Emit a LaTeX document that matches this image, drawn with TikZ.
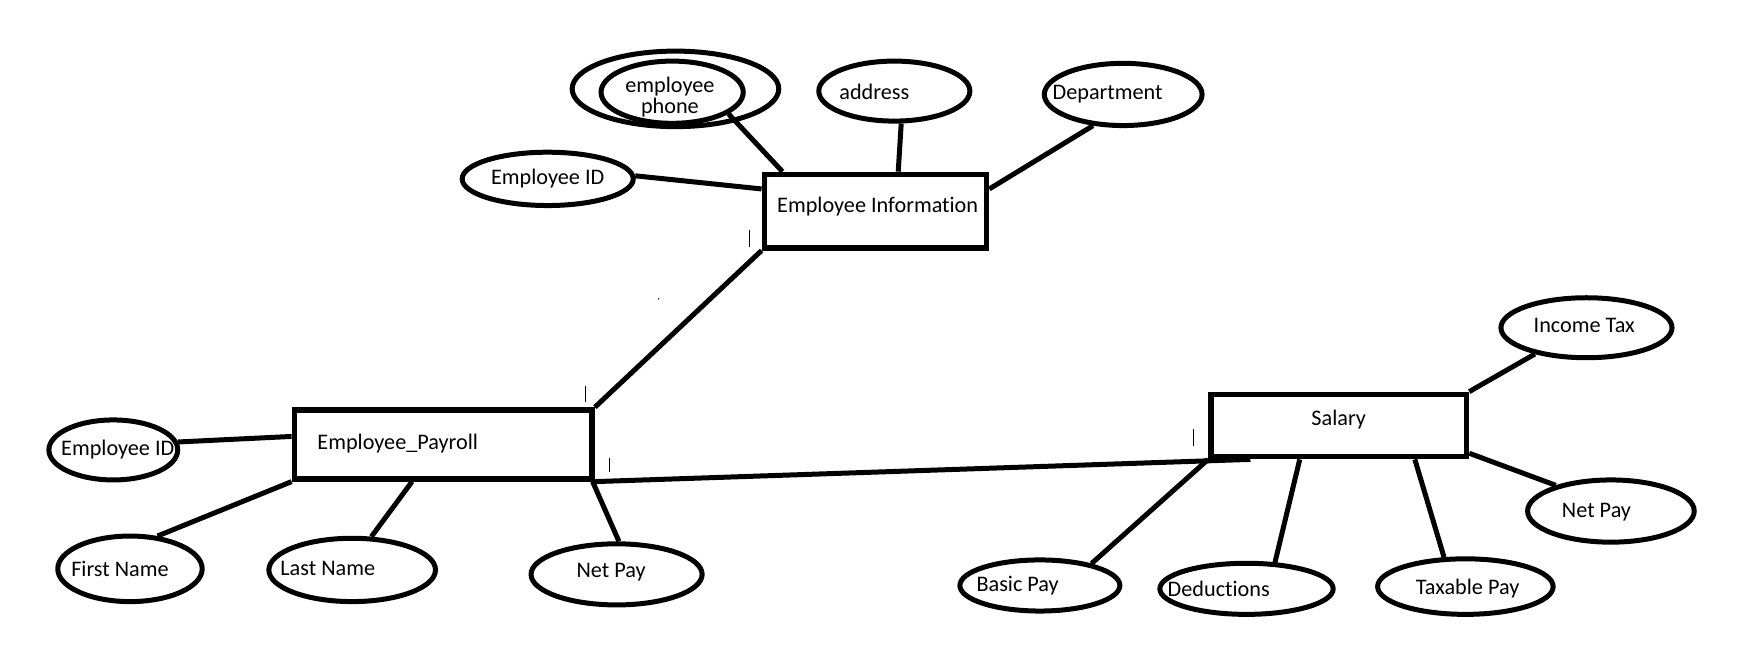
\documentclass[tikz,border=0pt]{standalone}
\usepackage{fontspec}
\setmainfont{Carlito}[Ligatures={NoCommon}]
\usetikzlibrary{shapes.geometric}
\begin{document}
\begin{tikzpicture}[x=1pt,y=-1pt,
  attr/.style={draw, ellipse, line width=4.5pt, inner sep=0pt},
  ent/.style={draw, rectangle, line width=5pt, inner sep=0pt},
  lbl/.style={inner sep=0pt, font=\fontsize{20}{19}\selectfont, align=center},
  conn/.style={line width=4.5pt},
  tickmark/.style={line width=1pt}]
\useasboundingbox[fill=white] (0,0) rectangle (1568,583.3);
% entities
\node[ent, minimum width=200pt, minimum height=66pt] (ei) at (788,190) {};
\node[ent, minimum width=268pt, minimum height=62pt] (pay) at (399,400) {};
\node[ent, minimum width=230pt, minimum height=56pt] (sal) at (1205,383) {};
% attributes
\node[attr, minimum width=186pt, minimum height=68pt] (phoneO) at (608,80) {};
\node[attr, minimum width=128pt, minimum height=56pt] (phoneI) at (605,83) {};
\node[attr, minimum width=136pt, minimum height=54pt] (addr) at (805,82) {};
\node[attr, minimum width=142pt, minimum height=56pt] (dept) at (1011,85) {};
\node[attr, minimum width=154pt, minimum height=48pt] (eid1) at (493,161) {};
\node[attr, minimum width=116pt, minimum height=54pt] (eid2) at (102,405) {};
\node[attr, minimum width=130pt, minimum height=59pt] (fname) at (117,512) {};
\node[attr, minimum width=150pt, minimum height=57pt] (lname) at (317,513) {};
\node[attr, minimum width=154pt, minimum height=55pt] (netp1) at (555,517) {};
\node[attr, minimum width=154pt, minimum height=54pt] (itax) at (1428,295) {};
\node[attr, minimum width=150pt, minimum height=56pt] (netp2) at (1450,460) {};
\node[attr, minimum width=144pt, minimum height=46pt] (basic) at (936,527) {};
\node[attr, minimum width=156pt, minimum height=46pt] (ded) at (1122,530) {};
\node[attr, minimum width=158pt, minimum height=50pt] (taxable) at (1319,528) {};
% labels
\node[lbl] (phone-t) at (603,87) {employee\\phone};
\node[lbl] (addr-t) at (787,83) {address};
\node[lbl] (dept-t) at (997,85) {Department};
\node[lbl] (eid1-t) at (493,161) {Employee ID};
\node[lbl] (ei-t) at (790,186) {Employee Information};
\node[lbl] (pay-t) at (358,399) {Employee\_Payroll};
\node[lbl] (eid2-t) at (106,405) {Employee ID};
\node[lbl] (fname-t) at (108,512) {First Name};
\node[lbl] (lname-t) at (295,512) {Last Name};
\node[lbl] (netp1-t) at (550,515) {Net Pay};
\node[lbl] (sal-t) at (1205,378) {Salary};
\node[lbl] (itax-t) at (1426,293) {Income Tax};
\node[lbl] (netp2-t) at (1437,461) {Net Pay};
\node[lbl] (basic-t) at (916,527) {Basic Pay};
\node[lbl] (ded-t) at (1097,530) {Deductions};
\node[lbl] (taxable-t) at (1321,530) {Taxable Pay};
% connectors
\draw[conn] (phoneI.-21) -- (ei.157.8);
\draw[conn] (addr.-78) -- (ei.60);
\draw[conn] (dept.-134) -- (ei.11.3);
\draw[conn] (eid1.2) -- (ei.169.8);
\draw[conn] (ei.south west) -- (pay.north east);
\draw[conn] (eid2.7) -- (pay.177.9);
\draw[conn] (fname.50) -- (pay.south west);
\draw[conn] (lname.60) -- (pay.-130);
\draw[conn] (netp1.86) -- (pay.-14.7);
\draw[conn] (pay.south east) -- (sal.-159.5);
\draw[conn] (sal.north east) -- (itax.-153);
\draw[conn] (sal.-12.3) -- (netp2.155);
\draw[conn] (sal.south west) -- (basic.23);
\draw[conn] (sal.-139.7) -- (ded.43);
\draw[conn] (sal.-24) -- (taxable.126);
% small tick marks
\draw[tickmark] (675,207) -- (675,222);
\draw[tickmark] (527,347) -- (527,362);
\draw[tickmark] (549,412) -- (549,425);
\draw[tickmark] (1074,386) -- (1074,401);
\fill (593,269) circle (0.7);
\end{tikzpicture}
\end{document}
